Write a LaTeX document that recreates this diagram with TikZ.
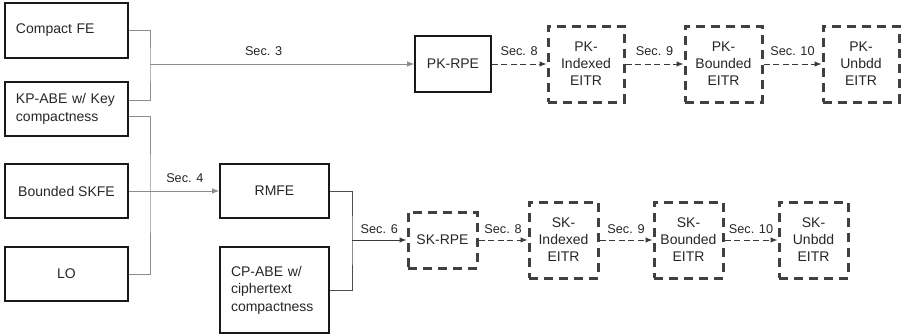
\documentclass[tikz,border=0pt]{standalone}
\usepackage{fontspec}
\setmainfont{Liberation Sans}
\usetikzlibrary{arrows.meta}
\definecolor{linegray}{HTML}{8C8C8C}
\definecolor{darkline}{HTML}{3A3A3A}
\definecolor{dashgray}{HTML}{404040}
\definecolor{txtgray}{HTML}{262626}

\tikzset{
	solidbox/.style={draw=black!90, line width=1.6pt, text=txtgray, inner sep=0pt,
		font=\fontsize{14}{17.5}\selectfont, align=center},
	leftbox/.style={solidbox, align=left, inner xsep=11pt},
	dashbox/.style={draw=dashgray, line width=3pt, dash pattern=on 9pt off 6pt,
		text=txtgray, inner sep=0pt, font=\fontsize{14}{17}\selectfont, align=center},
	conn/.style={draw=linegray, line width=1pt},
	solidarrow/.style={conn, -{Latex[length=7pt, width=5.5pt]}},
	dasharrow/.style={draw=darkline, line width=1pt, dash pattern=on 6pt off 3.5pt,
		-{Latex[length=7pt, width=5.5pt]}},
	seclabel/.style={text=txtgray, font=\fontsize{12.7}{14}\selectfont}
}

\begin{document}
\begin{tikzpicture}[x=1pt, y=-1pt]
	\useasboundingbox (0, 0) rectangle (906, 335);

	% sources
	\node[leftbox, minimum width=123, minimum height=55, text width=101] (cfe) at (66.5, 30.5) {Compact FE};
	\node[leftbox, minimum width=123, minimum height=54, text width=101] (kpabe) at (66.5, 109) {KP-ABE w/ Key\\compactness};
	\node[solidbox, minimum width=123, minimum height=54] (bskfe) at (66.5, 191) {Bounded SKFE};
	\node[solidbox, minimum width=123, minimum height=54] (lo) at (66.5, 274) {LO};
	\node[solidbox, minimum width=109, minimum height=54] (rmfe) at (274.5, 191) {RMFE};
	\node[leftbox, minimum width=109, minimum height=86, text width=87] (cpabe) at (274.5, 290) {CP-ABE w/\\ciphertext\\compactness};

	% public-key row
	\node[solidbox, minimum width=76, minimum height=56] (pkrpe) at (453, 64) {PK-RPE};
	\node[dashbox, minimum width=76, minimum height=76] (pkidx) at (586, 64) {PK-\\Indexed\\EITR};
	\node[dashbox, minimum width=77, minimum height=76] (pkbnd) at (723.5, 64) {PK-\\Bounded\\EITR};
	\node[dashbox, minimum width=76, minimum height=76] (pkunb) at (861, 64) {PK-\\Unbdd\\EITR};

	% secret-key row
	\node[dashbox, minimum width=69, minimum height=56] (skrpe) at (442.5, 240) {SK-RPE};
	\node[dashbox, minimum width=69, minimum height=76] (skidx) at (563.5, 240) {SK-\\Indexed\\EITR};
	\node[dashbox, minimum width=69, minimum height=76] (skbnd) at (688.5, 240) {SK-\\Bounded\\EITR};
	\node[dashbox, minimum width=69, minimum height=76] (skunb) at (813.5, 240) {SK-\\Unbdd\\EITR};

	% junctions
	\coordinate (j1) at (150, 64);
	\coordinate (j2) at (150, 192);
	\coordinate (j3) at (352, 240);

	\draw[conn] (cfe.east) -| (j1) |- ([yshift=9pt]kpabe.east);
	\draw[solidarrow] (j1) -- (pkrpe.west) node[seclabel, pos=0.43, above=5pt] {Sec. 3};

	\draw[conn] ([yshift=-7pt]kpabe.east) -| (j2) |- (lo.east);
	\draw[solidarrow] (bskfe.east) -- (rmfe.west) node[seclabel, pos=0.62, above=5pt] {Sec. 4};

	\draw[conn, draw=darkline!90] (rmfe.east) -| (j3) |- (cpabe.east);
	\draw[solidarrow, draw=darkline] (j3) -- (skrpe.west) node[seclabel, midway, above=3pt] {Sec. 6};

	\draw[dasharrow] (pkrpe.east) -- (pkidx.west) node[seclabel, midway, above=5pt] {Sec. 8};
	\draw[dasharrow] (pkidx.east) -- (pkbnd.west) node[seclabel, midway, above=5pt] {Sec. 9};
	\draw[dasharrow] (pkbnd.east) -- (pkunb.west) node[seclabel, midway, above=5pt] {Sec. 10};

	\draw[dasharrow] (skrpe.east) -- (skidx.west) node[seclabel, midway, above=3pt] {Sec. 8};
	\draw[dasharrow] (skidx.east) -- (skbnd.west) node[seclabel, midway, above=3pt] {Sec. 9};
	\draw[dasharrow] (skbnd.east) -- (skunb.west) node[seclabel, midway, above=3pt] {Sec. 10};
\end{tikzpicture}
\end{document}
